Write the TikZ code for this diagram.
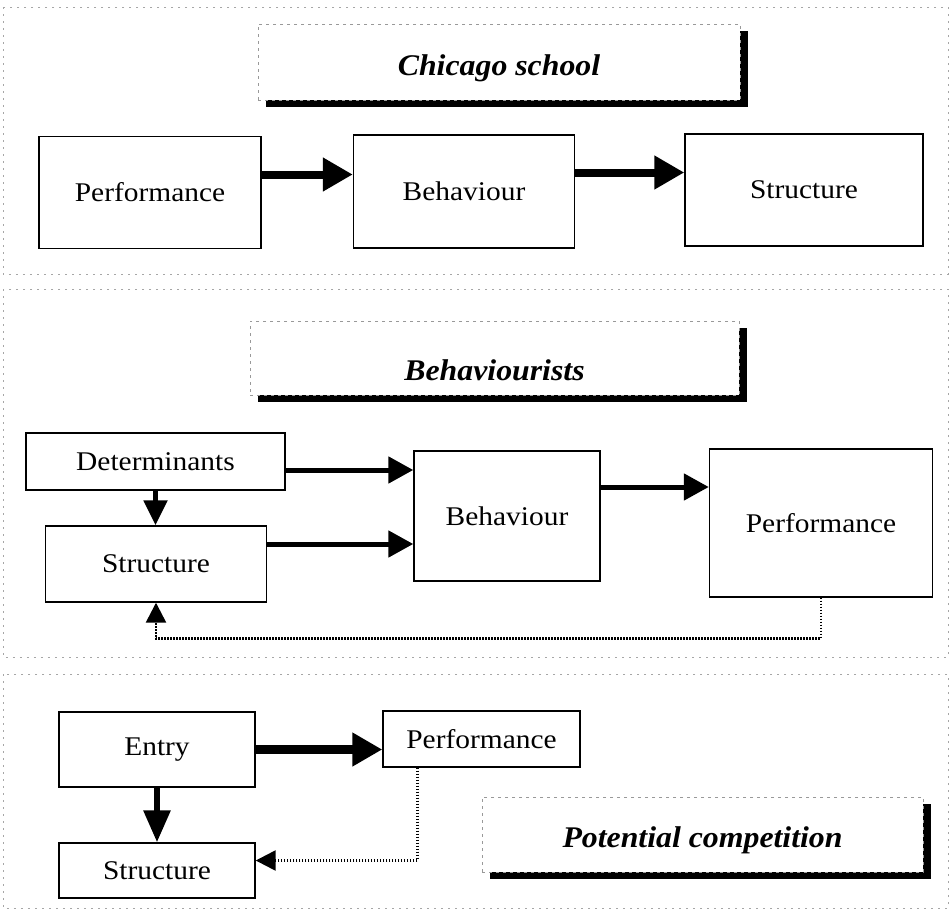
\documentclass[tikz,border=0pt]{standalone}
\usepackage{fontspec}
\setmainfont{Liberation Serif}
\newfontfamily\boxfont[FakeStretch=1.09]{Liberation Serif}
\newfontfamily\ttlfont[FakeStretch=1.06]{Liberation Serif}
\usetikzlibrary{arrows.meta,shadows}
\begin{document}
\begin{tikzpicture}[x=1pt,y=-1pt,
  panel/.style={draw=black!35, line width=0.8pt, dash pattern=on 2pt off 5pt},
  box/.style={draw=black, line width=1.4pt, fill=white, inner sep=0pt,
    font=\boxfont\fontsize{27}{31}\selectfont},
  ttl/.style={draw=black!40, dash pattern=on 3pt off 4pt, line width=0.8pt,
    fill=white, inner sep=0pt, text depth=0pt,
    font=\ttlfont\bfseries\itshape\fontsize{30}{34}\selectfont,
    drop shadow={shadow xshift=8pt, shadow yshift=-7pt, fill=black, opacity=1, draw=none}},
  bigarr/.style={line width=8pt, -{Triangle[length=30pt,width=32pt]}},
  widearr/.style={line width=9pt, -{Triangle[length=30pt,width=32pt]}},
  midarr/.style={line width=5pt, -{Triangle[length=25pt,width=26pt]}},
  downarr/.style={line width=5pt, -{Triangle[length=25pt,width=23pt]}},
  downarrb/.style={line width=6pt, -{Triangle[length=32pt,width=26pt]}},
  fb/.style={line width=2.5pt, dash pattern=on 1.6pt off 1.4pt,
    -{Triangle[length=20pt,width=20pt]}}
]
\useasboundingbox (0,0) rectangle (951,911);
\fill[white] (0,0) rectangle (951,911);

% faint panel borders
\draw[panel] (3,7) rectangle (948,274);
\draw[panel] (3,289) rectangle (948,657);
\draw[panel] (3,674) rectangle (948,908);

% ---------------- Chicago school ----------------
\node[ttl, minimum width=482pt, minimum height=76pt, text height=26pt] (t1) at (499,62) {Chicago school};

\node[box, minimum width=222pt, minimum height=112pt] (p1) at (150,192.5) {Performance};
\node[box, minimum width=221pt, minimum height=113pt] (b1) at (464,191.5) {Behaviour};
\node[box, minimum width=238pt, minimum height=112pt] (s1) at (804,190) {Structure};

\coordinate (a1) at ([yshift=18pt]p1.east);
\coordinate (a2) at ([yshift=19pt]b1.east);
\draw[bigarr] (a1) -- (a1 -| b1.west);
\draw[bigarr] (a2) -- (a2 -| s1.west);

% ---------------- Behaviourists ----------------
\node[ttl, minimum width=489pt, minimum height=74pt, text height=44pt] (t2) at (494.5,358) {Behaviourists};

\node[box, minimum width=259pt, minimum height=57pt] (det) at (155.5,461.5) {Determinants};
\node[box, minimum width=221.5pt, minimum height=76pt] (st2) at (156,564) {Structure};
\node[box, minimum width=186pt, minimum height=130pt] (beh2) at (507,516) {Behaviour};
\node[box, minimum width=223pt, minimum height=148pt] (perf2) at (821,523) {Performance};

\coordinate (m1) at ([yshift=-8.5pt]det.east);
\coordinate (m2) at ([yshift=20pt]st2.east);
\coordinate (m3) at ([yshift=29pt]beh2.east);
\draw[midarr] (m1) -- (m1 -| beh2.west);
\draw[midarr] (m2) -- (m2 -| beh2.west);
\draw[midarr] (m3) -- (m3 -| perf2.west);
\draw[downarr] (det.south) -- (det.south |- st2.north);
\draw[fb] (perf2.south) -- ++(0,41) -| (st2.south);

% ---------------- Potential competition ----------------
\node[ttl, minimum width=441pt, minimum height=75pt, text height=25pt] (t3) at (702.5,834.5) {Potential competition};

\node[box, minimum width=196pt, minimum height=75pt] (entry) at (157,749.5) {Entry};
\node[box, minimum width=197pt, minimum height=56pt] (perf3) at (481.5,739) {Performance};
\node[box, minimum width=196pt, minimum height=55pt] (st3) at (157,870.5) {Structure};

\draw[widearr] (entry.east) -- (entry.east -| perf3.west);
\draw[downarrb] (entry.south) -- (st3.north);
\coordinate (f1) at ([xshift=-64pt]perf3.south);
\coordinate (f2) at ([yshift=10pt]st3.east);
\draw[fb] (f1) |- (f2);
\end{tikzpicture}
\end{document}
